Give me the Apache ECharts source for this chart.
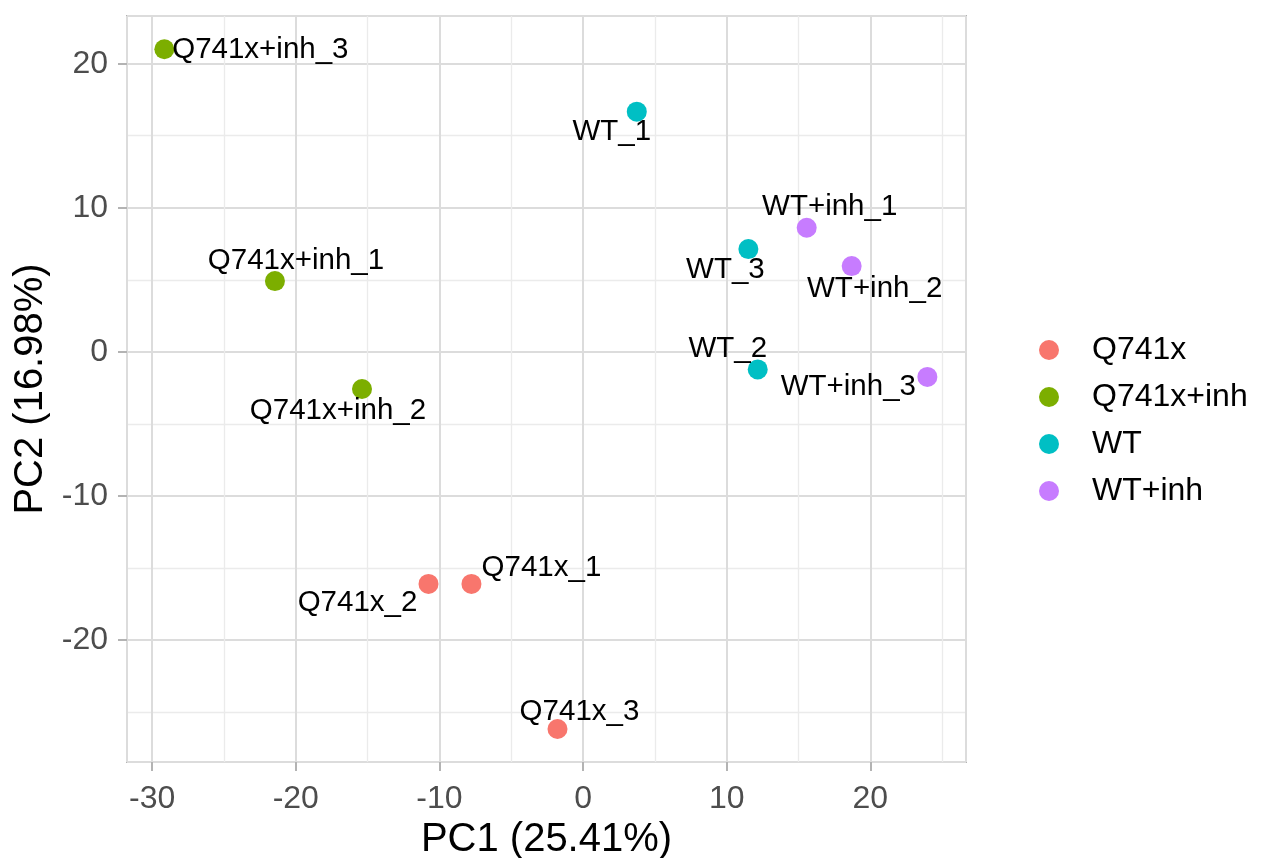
<!DOCTYPE html>
<html>
<head>
<meta charset="utf-8">
<title>PCA</title>
<script src="https://cdn.jsdelivr.net/npm/echarts@6/dist/echarts.min.js"></script>
<style>
  html, body { margin: 0; padding: 0; background: #ffffff; }
  #chart { width: 1261px; height: 858px; }
</style>
</head>
<body>
<div id="chart"></div>
<script>
// Sample scores on the first two principal components
const samples = ['Q741x_1', 'Q741x_2', 'Q741x_3',
                 'Q741x+inh_1', 'Q741x+inh_2', 'Q741x+inh_3',
                 'WT_1', 'WT_2', 'WT_3',
                 'WT+inh_1', 'WT+inh_2', 'WT+inh_3'];
const sampleGroup = ['Q741x', 'Q741x', 'Q741x',
                     'Q741x+inh', 'Q741x+inh', 'Q741x+inh',
                     'WT', 'WT', 'WT',
                     'WT+inh', 'WT+inh', 'WT+inh'];
const pc1 = [-7.77, -10.76, -1.78, -21.45, -15.39, -29.15, 3.74, 12.16, 11.51, 15.57, 18.70, 23.97];
const pc2 = [-16.11, -16.11, -26.18, 4.91, -2.58, 21.00, 16.67, -1.22, 7.13, 8.61, 5.95, -1.74];

const groups = ['Q741x', 'Q741x+inh', 'WT', 'WT+inh'];
const groupColors = ['#F8766D', '#7CAE00', '#00BFC4', '#C77CFF'];

const xTitle = 'PC1 (25.41%)';
const yTitle = 'PC2 (16.98%)';
const xRange = [-31.75, 26.66];
const yRange = [-28.47, 23.31];

// Label placement (pixel offset of the label centre from its point), repelled by hand
const labelOffsets = {
  'Q741x_1': [70, -16], 'Q741x_2': [-71, 19], 'Q741x_3': [22, -17],
  'Q741x+inh_1': [21, -20], 'Q741x+inh_2': [-24, 22], 'Q741x+inh_3': [96, 1],
  'WT_1': [-25, 20], 'WT_2': [-30, -21], 'WT_3': [-23, 21],
  'WT+inh_1': [23, -21], 'WT+inh_2': [23, 23], 'WT+inh_3': [-79, 10]
};

const FONT = '"Liberation Sans", Arial, Helvetica, sans-serif';

const groupData = groups.map(g => samples
  .map((s, i) => ({ s, i }))
  .filter(d => sampleGroup[d.i] === g)
  .map(d => ({ name: d.s, value: [pc1[d.i], pc2[d.i]] })));

const series = groups.map((g, gi) => ({
  name: g,
  type: 'scatter',
  symbol: 'circle',
  symbolSize: 20,
  itemStyle: { color: groupColors[gi], opacity: 1 },
  label: {
    show: true,
    position: 'inside',
    formatter: p => p.data.name,
    color: '#000000',
    fontFamily: FONT,
    fontSize: 29.5
  },
  labelLayout: params => {
    const off = labelOffsets[groupData[gi][params.dataIndex].name] || [0, 0];
    return { dx: off[0], dy: off[1], hideOverlap: false };
  },
  emphasis: { disabled: true },
  z: 5,
  data: groupData[gi]
}));

const gridMajor = { show: true, lineStyle: { color: '#dcdcdc', width: 2 } };
const gridMinor = { show: true, lineStyle: { color: '#ebebeb', width: 1.3 } };
const tickStyle = { show: true, length: 9, lineStyle: { color: '#b3b3b3', width: 2 } };
const tickLabel = (margin) => ({
  showMinLabel: false, showMaxLabel: false,
  margin: margin,
  fontFamily: FONT, fontSize: 32, color: '#4d4d4d',
  formatter: v => (Math.abs(v % 10) < 1e-9 ? String(v) : '')
});

const chart = echarts.init(document.getElementById('chart'), null, { renderer: 'canvas' });
chart.setOption({
  animation: false,
  backgroundColor: '#ffffff',
  textStyle: { fontFamily: FONT },
  grid: {
    left: 127, top: 16, right: 295, bottom: 96,
    containLabel: false,
    outerBoundsMode: 'none',
    show: true,
    borderColor: '#b3b3b3',
    borderWidth: 2,
    backgroundColor: 'transparent'
  },
  legend: {
    orient: 'vertical',
    left: 1034,
    top: 329,
    itemWidth: 20,
    itemHeight: 20,
    itemGap: 15,
    icon: 'circle',
    data: groups,
    selectedMode: false,
    textStyle: { fontFamily: FONT, fontSize: 32, color: '#000000', padding: [0, 0, 0, 28], lineHeight: 32 }
  },
  xAxis: {
    type: 'value',
    min: xRange[0],
    max: xRange[1],
    minInterval: 10,
    maxInterval: 10,
    name: xTitle,
    nameLocation: 'middle',
    nameGap: 55,
    nameTextStyle: { fontFamily: FONT, fontSize: 40, color: '#000000' },
    axisLine: { show: false, onZero: false },
    axisTick: tickStyle,
    axisLabel: tickLabel(21),
    splitLine: gridMajor,
    minorTick: { show: false, splitNumber: 2 },
    minorSplitLine: gridMinor
  },
  yAxis: {
    type: 'value',
    min: yRange[0],
    max: yRange[1],
    minInterval: 10,
    maxInterval: 10,
    name: yTitle,
    nameLocation: 'middle',
    nameGap: 68,
    nameTextStyle: { fontFamily: FONT, fontSize: 40, color: '#000000' },
    axisLine: { show: false, onZero: false },
    axisTick: tickStyle,
    axisLabel: tickLabel(19),
    splitLine: gridMajor,
    minorTick: { show: false, splitNumber: 2 },
    minorSplitLine: gridMinor
  },
  series: series
});
</script>
</body>
</html>
